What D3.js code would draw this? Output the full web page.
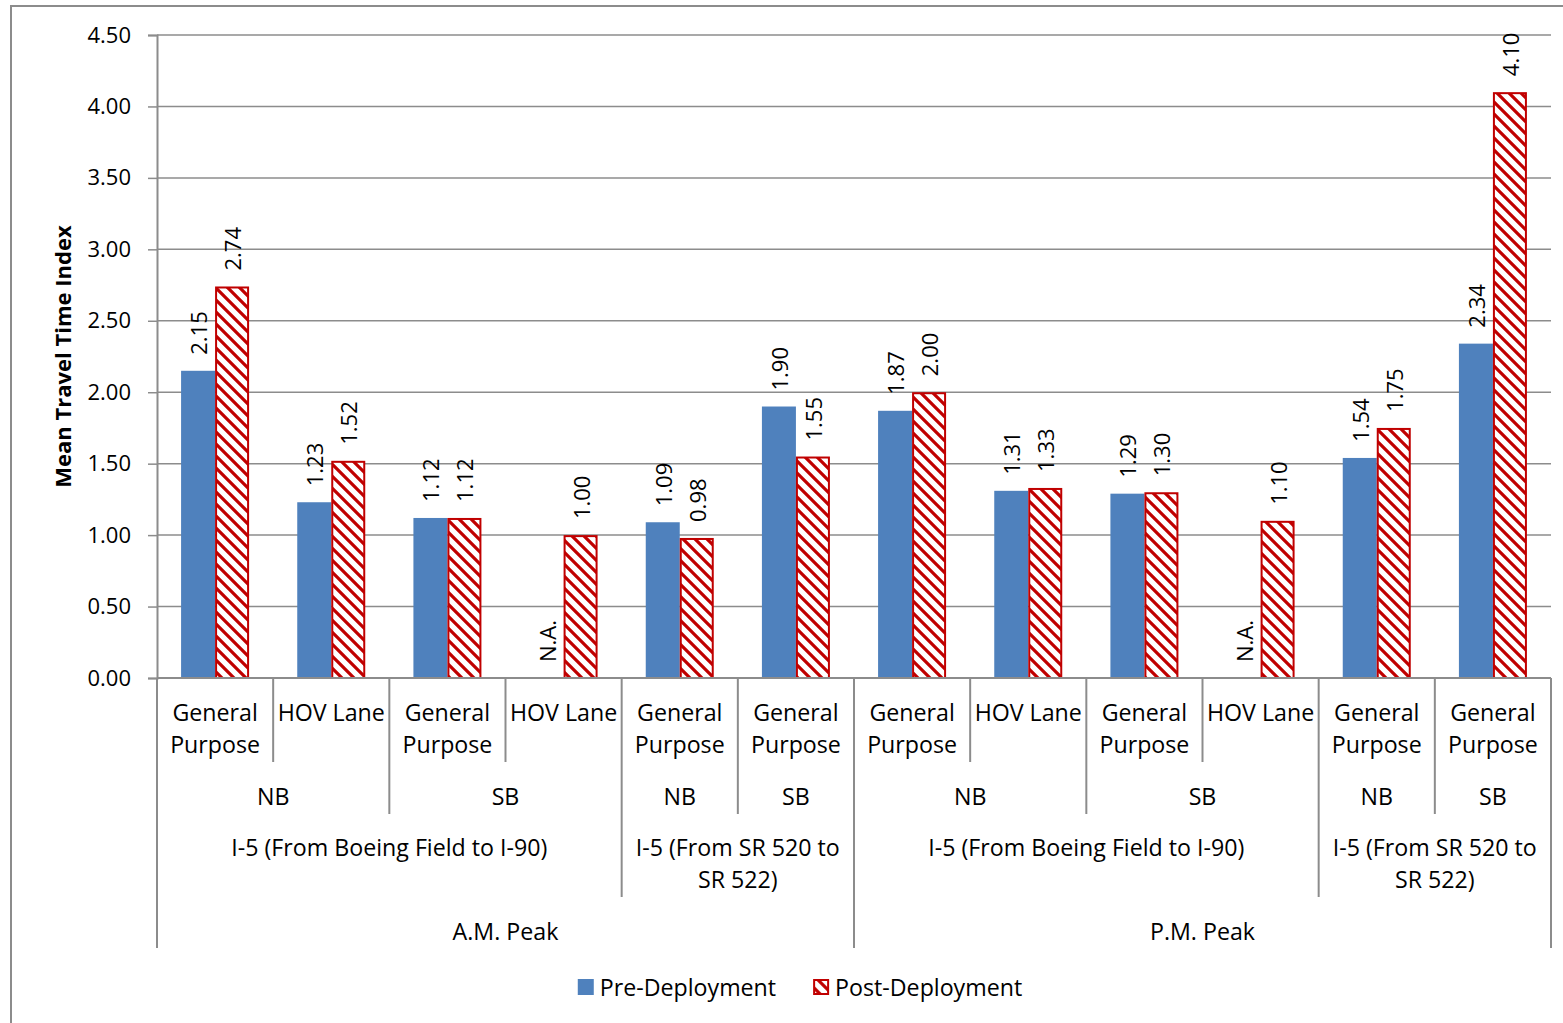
<!DOCTYPE html>
<html>
<head>
<meta charset="utf-8">
<script src="https://cdn.jsdelivr.net/npm/d3@7"></script>
<style>
  html, body { margin: 0; padding: 0; background: #fff; }
  svg { display: block; font-family: "Open Sans", "Noto Sans", sans-serif; }
</style>
</head>
<body>
<svg id="chart" width="1563" height="1023"></svg>
<script>
// Category hierarchy, innermost level first
const lanes = ["General Purpose", "HOV Lane", "General Purpose", "HOV Lane", "General Purpose", "General Purpose",
               "General Purpose", "HOV Lane", "General Purpose", "HOV Lane", "General Purpose", "General Purpose"];
const directions = ["NB", "NB", "SB", "SB", "NB", "SB", "NB", "NB", "SB", "SB", "NB", "SB"];
const corridors = ["I-5 (From Boeing Field to I-90)", "I-5 (From Boeing Field to I-90)", "I-5 (From Boeing Field to I-90)", "I-5 (From Boeing Field to I-90)",
                   "I-5 (From SR 520 to SR 522)", "I-5 (From SR 520 to SR 522)",
                   "I-5 (From Boeing Field to I-90)", "I-5 (From Boeing Field to I-90)", "I-5 (From Boeing Field to I-90)", "I-5 (From Boeing Field to I-90)",
                   "I-5 (From SR 520 to SR 522)", "I-5 (From SR 520 to SR 522)"];
const periods = ["A.M. Peak", "A.M. Peak", "A.M. Peak", "A.M. Peak", "A.M. Peak", "A.M. Peak",
                 "P.M. Peak", "P.M. Peak", "P.M. Peak", "P.M. Peak", "P.M. Peak", "P.M. Peak"];

// Mean travel time index (null = not available)
const preDeployment  = [2.15, 1.23, 1.12, null, 1.09, 1.90, 1.87, 1.31, 1.29, null, 1.54, 2.34];
const postDeployment = [2.74, 1.52, 1.12, 1.00, 0.98, 1.55, 2.00, 1.33, 1.30, 1.10, 1.75, 4.10];

const seriesNames = ["Pre-Deployment", "Post-Deployment"];
const yTicks = [0, 0.5, 1, 1.5, 2, 2.5, 3, 3.5, 4, 4.5];

const svg = d3.select("#chart");
const W = 1563, H = 1023;
const plot = { left: 157, right: 1551, top: 35, bottom: 678 };
const BLUE = "#4f81bd", RED = "#c00000", GRID = "#8c8c8c";
const CAT_FONT = 23.2;

// Outer chart frame
svg.append("rect").attr("x", 11).attr("y", 6).attr("width", W + 40).attr("height", H + 40)
  .attr("fill", "#fff").attr("stroke", GRID).attr("stroke-width", 2);

// Diagonal hatch for the post-deployment series
const TILE = 12;
const defs = svg.append("defs");
const pat = defs.append("pattern").attr("id", "hatch").attr("patternUnits", "userSpaceOnUse")
  .attr("width", TILE).attr("height", TILE);
pat.append("rect").attr("width", TILE).attr("height", TILE).attr("fill", "#fff");
pat.append("path")
  .attr("d", `M-3,-3 L${TILE + 3},${TILE + 3} M-3,${TILE - 3} L3,${TILE + 3} M${TILE - 3},-3 L${TILE + 3},3`)
  .attr("stroke", RED).attr("stroke-width", 3.2);

const idx = d3.range(lanes.length);
const x = d3.scaleBand().domain(idx).range([plot.left, plot.right])
  .paddingInner(0.4146).paddingOuter(0.2073);
const step = x.step();
const xs = d3.scaleBand().domain(seriesNames).range([0, x.bandwidth()]);
const y = d3.scaleLinear().domain([0, 4.5]).range([plot.bottom, plot.top]);

// Gridlines
svg.append("g").selectAll("line").data(yTicks.filter(t => t > 0)).join("line")
  .attr("x1", plot.left).attr("x2", plot.right)
  .attr("y1", d => y(d)).attr("y2", d => y(d))
  .attr("stroke", GRID).attr("stroke-width", 1.5);

// Y axis
const yAxis = svg.append("g").attr("transform", `translate(${plot.left},0)`)
  .call(d3.axisLeft(y).tickValues(yTicks).tickFormat(d3.format(".2f")).tickSize(9).tickPadding(17));
yAxis.select(".domain").attr("stroke", GRID).attr("stroke-width", 2);
yAxis.selectAll(".tick line").attr("stroke", GRID).attr("stroke-width", 1.5);
yAxis.selectAll(".tick text").attr("font-size", 22).attr("fill", "#000")
  .attr("font-family", "'Open Sans', sans-serif");

svg.append("text").attr("transform", `translate(62,${(plot.top + plot.bottom) / 2}) rotate(-90)`)
  .attr("text-anchor", "middle").attr("dominant-baseline", "central")
  .attr("font-size", 22).attr("font-weight", "bold").text("Mean Travel Time Index");

// Bars
const bars = svg.append("g");
const rows = idx.map(i => ({ i, pre: preDeployment[i], post: postDeployment[i] }));
bars.selectAll("rect.pre").data(rows.filter(d => d.pre != null)).join("rect").attr("class", "pre")
  .attr("x", d => x(d.i) + xs("Pre-Deployment")).attr("width", xs.bandwidth())
  .attr("y", d => y(d.pre)).attr("height", d => y(0) - y(d.pre))
  .attr("fill", BLUE);
bars.selectAll("rect.post").data(rows).join("rect").attr("class", "post")
  .attr("x", d => x(d.i) + xs("Post-Deployment") + 1).attr("width", xs.bandwidth() - 2)
  .attr("y", d => y(d.post) + 1).attr("height", d => y(0) - y(d.post) - 1)
  .attr("fill", "url(#hatch)").attr("stroke", RED).attr("stroke-width", 2);

// Value labels, rotated
const labelGap = 16;
function valueLabel(cx, v, txt) {
  svg.append("text").attr("transform", `translate(${cx},${y(v) - labelGap}) rotate(-90)`)
    .attr("dominant-baseline", "central").attr("font-size", 22).text(txt);
}
rows.forEach(d => {
  const cPre = x(d.i) + xs("Pre-Deployment") + xs.bandwidth() / 2;
  const cPost = x(d.i) + xs("Post-Deployment") + xs.bandwidth() / 2;
  valueLabel(cPre, d.pre == null ? 0 : d.pre, d.pre == null ? "N.A." : d.pre.toFixed(2));
  valueLabel(cPost, d.post, d.post.toFixed(2));
});

// Multi-level category axis
const levels = [lanes, directions, corridors, periods];
const levelBottom = [762, 814, 897, 948];
const levelLineY = [713, 797, 848, 932];
const lineHeight = 32;
const edge = i => plot.left + i * step;
const axisG = svg.append("g");
axisG.append("line").attr("x1", plot.left).attr("x2", plot.right)
  .attr("y1", plot.bottom).attr("y2", plot.bottom).attr("stroke", GRID).attr("stroke-width", 2);

const keyAt = (L, j) => levels.slice(L).map(a => a[j]).join("|");

// dividers: each boundary goes down to the deepest level that breaks there
for (let b = 0; b <= lanes.length; b++) {
  let depth = 0;
  if (b === 0 || b === lanes.length) depth = levels.length - 1;
  else {
    for (let L = 0; L < levels.length; L++) {
      if (keyAt(L, b) !== keyAt(L, b - 1)) depth = L;
    }
  }
  axisG.append("line").attr("x1", edge(b)).attr("x2", edge(b))
    .attr("y1", plot.bottom).attr("y2", levelBottom[depth])
    .attr("stroke", GRID).attr("stroke-width", 2);
}

function spans(L) {
  const out = [];
  let start = 0;
  for (let i = 1; i <= lanes.length; i++) {
    if (i === lanes.length || keyAt(L, i) !== keyAt(L, start)) {
      out.push({ label: levels[L][start], a: start, b: i });
      start = i;
    }
  }
  return out;
}

function wrapText(textSel, words, maxW) {
  const lines = [];
  let cur = [];
  const probe = textSel.append("tspan");
  words.forEach(w => {
    probe.text(cur.concat(w).join(" "));
    if (probe.node().getComputedTextLength() > maxW && cur.length) {
      lines.push(cur.join(" "));
      cur = [w];
    } else cur.push(w);
  });
  lines.push(cur.join(" "));
  probe.remove();
  return lines;
}

levels.forEach((arr, L) => {
  spans(L).forEach(s => {
    const cx = (edge(s.a) + edge(s.b)) / 2;
    const t = axisG.append("text").attr("text-anchor", "middle").attr("font-size", CAT_FONT);
    const lines = wrapText(t, s.label.split(" "), edge(s.b) - edge(s.a) - 6);
    lines.forEach((ln, k) => {
      t.append("tspan").attr("x", cx).attr("y", levelLineY[L] + k * lineHeight)
        .attr("dy", "0.35em").text(ln);
    });
  });
});

// Legend
const legend = svg.append("g");
let lx = 0;
seriesNames.forEach((name, k) => {
  const g = legend.append("g");
  if (k === 0) g.append("rect").attr("x", 0).attr("y", -8).attr("width", 16).attr("height", 16).attr("fill", BLUE);
  else g.append("rect").attr("x", 1).attr("y", -7).attr("width", 14).attr("height", 14)
    .attr("fill", "url(#hatch)").attr("stroke", RED).attr("stroke-width", 2);
  const t = g.append("text").attr("x", 22).attr("dominant-baseline", "central").attr("font-size", CAT_FONT).text(name);
  g.attr("transform", `translate(${lx},0)`);
  lx += 22 + t.node().getComputedTextLength() + 37;
});
lx -= 37;
legend.attr("transform", `translate(${800 - lx / 2},987)`);
</script>
</body>
</html>
